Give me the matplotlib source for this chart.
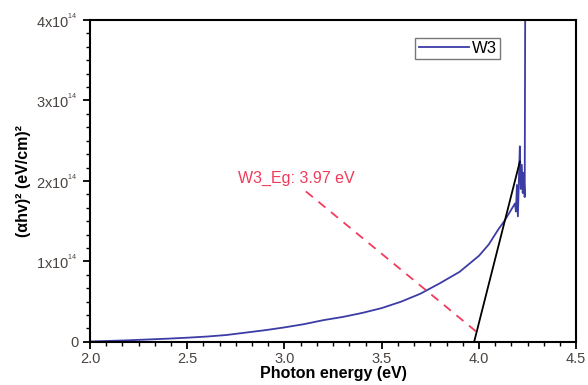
import numpy as np
import matplotlib
matplotlib.use('Agg')
from matplotlib import pyplot as plt
from matplotlib.ticker import MultipleLocator, FuncFormatter

plt.rcParams['font.family'] = ['Liberation Sans', 'DejaVu Sans']
plt.rcParams['mathtext.default'] = 'regular'

# photon energy (eV) and (alpha h nu)^2 in units of 1e14
energy = [2.00, 2.10, 2.20, 2.30, 2.40, 2.50, 2.60, 2.70, 2.80, 2.90, 3.00,
          3.10, 3.20, 3.30, 3.40, 3.50, 3.60, 3.70, 3.80, 3.90, 4.00,
          4.05, 4.10, 4.13, 4.15, 4.17, 4.185, 4.19, 4.195, 4.20, 4.205,
          4.21, 4.215, 4.22, 4.225, 4.23, 4.235, 4.238, 4.24]
absorb = [0.005, 0.012, 0.020, 0.030, 0.040, 0.052, 0.066, 0.085, 0.115, 0.145, 0.18,
          0.22, 0.27, 0.31, 0.36, 0.42, 0.50, 0.60, 0.73, 0.87, 1.07,
          1.21, 1.40, 1.50, 1.58, 1.66, 1.72, 1.62, 1.95, 1.56, 2.00,
          2.43, 1.90, 2.20, 1.85, 2.10, 1.80, 4.50, 4.50]

# tangent fit line and the dashed pointer
fit_x = [3.975, 4.21]
fit_y = [0.0, 2.24]
ptr_x = [3.11, 3.99]
ptr_y = [1.87, 0.12]
eg_label = 'W3_Eg: 3.97 eV'

scale = 1e14
fig = plt.figure(figsize=(5.88, 3.85), dpi=100)
ax = fig.add_axes([0.153, 0.112, 0.827, 0.836])

ax.plot(energy, np.array(absorb) * scale, color='#3c3ca6', lw=1.3, label='W3')
ax.plot(fit_x, np.array(fit_y) * scale, color='black', lw=1.3)
ax.plot(ptr_x, np.array(ptr_y) * scale, color='#f03c5a', lw=1.3, ls=(0, (5, 4)))
ax.text(2.76, 2.03 * scale, eg_label, color='#f03c5a', fontsize=11.5, va='center')

ax.set_xlim(2.0, 4.5)
ax.set_ylim(0, 4e14)
ax.xaxis.set_major_locator(MultipleLocator(0.5))
ax.xaxis.set_minor_locator(MultipleLocator(0.5 / 6))
ax.yaxis.set_major_locator(MultipleLocator(1e14))
ax.yaxis.set_minor_locator(MultipleLocator(1e14 / 6))


def yfmt(v, pos):
    n = int(round(v / 1e14))
    if n == 0:
        return '0'
    return '%dx10$^{^{14}}$' % n


ax.yaxis.set_major_formatter(FuncFormatter(yfmt))
ax.xaxis.set_major_formatter(FuncFormatter(lambda v, p: '%.1f' % v))

ax.tick_params(which='major', direction='out', length=5, width=1.3,
               labelsize=10.5, labelcolor='#4a4440')
ax.tick_params(which='minor', direction='out', length=3, width=1.0)
ax.tick_params(axis='x', pad=2)
for s in ax.spines.values():
    s.set_linewidth(1.5)

ax.set_xlabel('Photon energy (eV)', fontsize=11.5, fontweight='bold', labelpad=0)
ax.set_ylabel('(αhv)² (eV/cm)²', fontsize=11.5, fontweight='bold', labelpad=4)

leg = ax.legend(loc='upper left', bbox_to_anchor=(0.669, 0.945), fancybox=False,
                edgecolor='#555555', fontsize=12, handlelength=3.0,
                borderaxespad=0, borderpad=0.2, handletextpad=0.2)
leg.get_frame().set_linewidth(1.0)

fig.savefig('out.png', dpi=100)
